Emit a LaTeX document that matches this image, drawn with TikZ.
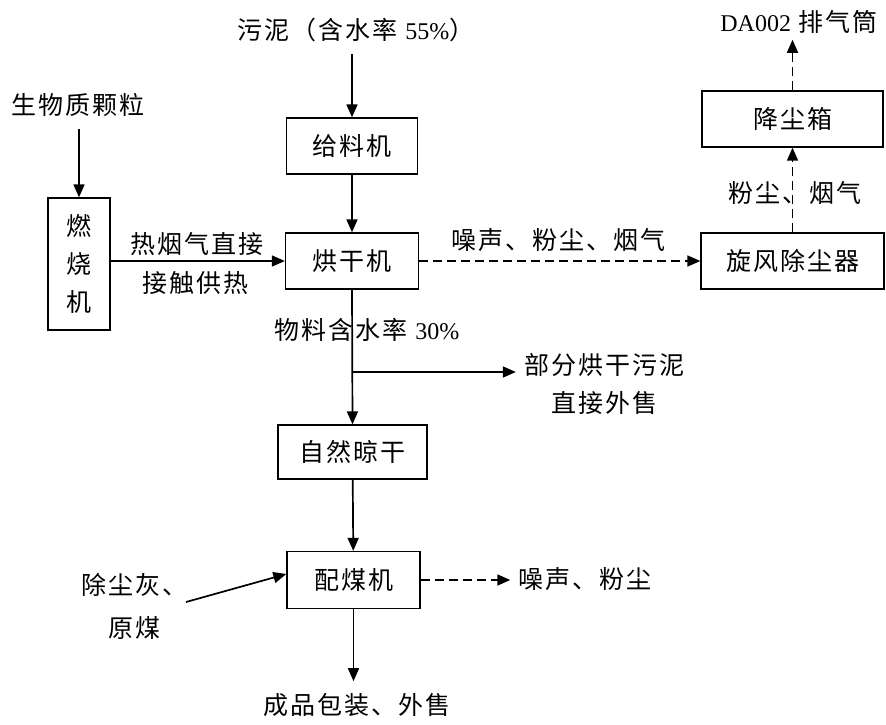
\documentclass[tikz,border=0pt]{standalone}
\usepackage{fontspec}
\setmainfont{Liberation Serif}
\newfontfamily\cjk[LetterSpace=8]{Noto Sans CJK SC}
\usetikzlibrary{arrows.meta,calc}
\begin{document}
\begin{tikzpicture}[x=1pt,y=-1pt,
  box/.style={draw,line width=1.3pt,minimum height=56pt,inner sep=0pt,font=\cjk\fontsize{25}{28}\selectfont},
  lbl/.style={inner sep=0pt,font=\cjk\fontsize{25}{28}\selectfont},
  flow/.style={line width=1.7pt,-{Triangle[length=13pt,width=11pt]}},
  dflow/.style={flow,dash pattern=on 9pt off 5pt}]
\useasboundingbox[fill=white] (0,0) rectangle (886,724);

% nodes
\node[lbl] (sludge) at (356,30) {污泥（含水率 {\rmfamily\fontsize{24}{28}\selectfont 55\%}）};
\node[box,minimum width=131pt] (feed) at (352,146) {给料机};
\node[box,minimum width=133pt] (dry) at (352,261) {烘干机};
\node[box,minimum width=62pt,minimum height=132pt,align=center,font=\cjk\fontsize{25}{38}\selectfont] (burn) at (79,264) {燃\\烧\\机};
\node[lbl] (bio) at (78,105) {生物质颗粒};
\node[box,minimum width=183pt] (cyc) at (792.5,261) {旋风除尘器};
\node[box,minimum width=181pt] (dbox) at (792.5,119) {降尘箱};
\node[lbl] (stack) at (799,22) {{\rmfamily\fontsize{24}{28}\selectfont DA002} 排气筒};
\node[box,minimum width=149pt,minimum height=54pt] (nat) at (352.5,452) {自然晾干};
\node[box,minimum width=133pt,minimum height=57pt] (mix) at (353.5,580) {配煤机};
\node[lbl] (noise2) at (585,579) {噪声、粉尘};
\node[lbl,align=center,font=\cjk\fontsize{25}{43}\selectfont] (raw) at (134,606) {除尘灰、\\原煤};
\node[lbl] (prod) at (357,705) {成品包装、外售};
\node[lbl] (moist) at (367,330) {物料含水率 {\rmfamily\fontsize{24}{28}\selectfont 30\%}};
\node[lbl,align=center,font=\cjk\fontsize{25}{38}\selectfont] (sell) at (604,384) {部分烘干污泥\\直接外售};
\node[lbl] (hot1) at (197,244) {热烟气直接};
\node[lbl] (hot2) at (195,283) {接触供热};
\node[lbl] (noise1) at (558,240) {噪声、粉尘、烟气};
\node[lbl] (dustlbl) at (795,193) {粉尘、烟气};

% connectors
\draw[flow] ([yshift=-12pt]sludge.south -| feed.north) -- (feed.north);
\draw[flow] (feed) -- (dry);
\draw[flow] ([yshift=-12pt]bio.south -| burn.north) -- (burn.north);
\draw[flow] (burn.east |- dry.west) -- (dry.west);
\draw[dflow] (dry.east) -- (cyc.west);
\draw[dflow] (cyc.north) -- (dbox.south);
\draw[dflow] (dbox.north) -- ([yshift=-6pt]stack.south -| dbox.north);
\draw[flow] (dry.south) -- (nat.north);
\coordinate (br) at (352,372);
\draw[flow] (br) -- ([xshift=-8pt]br -| sell.west);
\draw[flow] (nat) -- (mix);
\draw[dflow] (mix.east) -- ([xshift=-8pt]mix.east -| noise2.west);
\coordinate (rawout) at (186,602);
\draw[flow] (rawout) -- ([yshift=6pt]mix.west);
\draw[flow] (mix.south) -- ([yshift=12pt]prod.north -| mix.south);
\end{tikzpicture}
\end{document}
